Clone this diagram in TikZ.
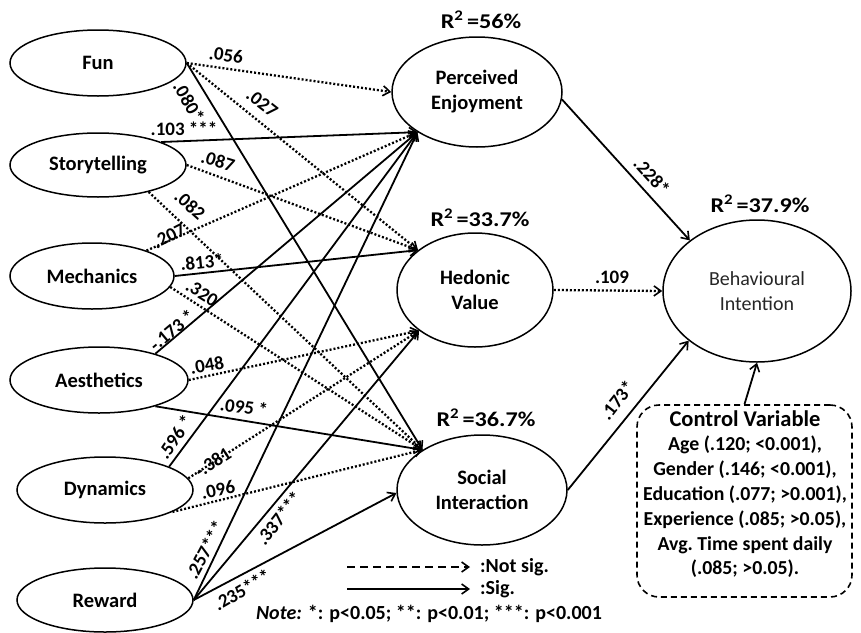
\documentclass[tikz,border=0pt]{standalone}
\usepackage{fontspec}
\setmainfont{Carlito}
\newfontfamily\widefont{Carlito}[FakeStretch=1.15]
\usetikzlibrary{shapes.geometric,arrows.meta}
\begin{document}
\begin{tikzpicture}[x=1pt,y=-1pt,
  ell/.style={draw, ellipse, line width=1.5pt, align=center, inner sep=0pt, font=\bfseries\fontsize{20.5}{25}\selectfont},
  coef/.style={font=\bfseries\fontsize{19}{19}\selectfont, inner sep=0pt},
  rsq/.style={font=\widefont\bfseries\fontsize{21}{21}\selectfont, inner sep=0pt},
  tip/.style={-{Straight Barb[length=7pt,width=10pt,line width=1.6pt]}},
  sigarr/.style={line width=1.8pt, tip},
  nsarr/.style={line width=2.3pt, dash pattern=on 2pt off 2pt, tip},
  legtxt/.style={font=\bfseries\fontsize{20}{20}\selectfont, inner sep=0pt, anchor=west},
]
\useasboundingbox (0,0) rectangle (861,632);

% exogenous constructs
\node[ell, minimum width=176pt, minimum height=66pt] (fun)   at (98,63)   {Fun};
\node[ell, minimum width=176pt, minimum height=64pt] (story) at (98,165)  {Storytelling};
\node[ell, minimum width=164pt, minimum height=66pt] (mech)  at (92,276)  {Mechanics};
\node[ell, minimum width=178pt, minimum height=66pt] (aest)  at (99,380)  {Aesthetics};
\node[ell, minimum width=176pt, minimum height=66pt] (dyn)   at (105,490) {Dynamics};
\node[ell, minimum width=176pt, minimum height=64pt] (rew)   at (105,600) {Reward};

% mediators
\node[ell, minimum width=170pt, minimum height=110pt] (pe) at (477,92)  {Perceived\\Enjoyment};
\node[ell, minimum width=156pt, minimum height=114pt] (hv) at (475,290) {Hedonic\\Value};
\node[ell, minimum width=170pt, minimum height=110pt] (si) at (482,490) {Social\\Interaction};

% outcome
\node[ell, minimum width=188pt, minimum height=142pt, font=\fontsize{20}{25}\selectfont, text=black!85] (bi) at (757,291) {Behavioural\\Intention};

% R squared
\node[rsq] (r1) at (481,20)  {R\textsuperscript{2}\,=56\%};
\node[rsq] (r2) at (480,218) {R\textsuperscript{2}\,=33.7\%};
\node[rsq] (r3) at (486,418) {R\textsuperscript{2}\,=36.7\%};
\node[rsq] (r4) at (760,204) {R\textsuperscript{2}\,=37.9\%};

% control variable box
\node[draw, line width=1.6pt, dash pattern=on 6pt off 4pt, rounded corners=22pt,
      minimum width=215pt, minimum height=192pt] (cv) at (744.5,501) {};
\node[align=center, inner sep=0pt, font=\bfseries\fontsize{19.8}{24.8}\selectfont] (cvtext) at (745,494)
  {{\fontsize{22.5}{24.8}\selectfont Control Variable}\\
   Age (.120; <0.001),\\
   Gender (.146; <0.001),\\
   Education (.077; >0.001),\\
   Experience (.085; >0.05),\\
   Avg.\ Time spent daily\\
   (.085; >0.05).};

% paths from Fun
\draw[nsarr]  (fun.east) -- (pe.west);
\draw[nsarr]  (fun.east) -- (hv.145);
\draw[sigarr] (fun.east) -- (si.146);
% Storytelling
\draw[sigarr] (story.20)  -- (pe.214);
\draw[nsarr]  (story.east) -- (hv.145);
\draw[nsarr]  (story.-28) -- (si.146);
% Mechanics
\draw[nsarr]  (mech.25)   -- (pe.214);
\draw[sigarr] (mech.east) -- (hv.145);
\draw[nsarr]  (mech.-8)   -- (si.146);
% Aesthetics
\draw[sigarr] (aest.25)   -- (pe.214);
\draw[nsarr]  (aest.east) -- (hv.216);
\draw[sigarr] (aest.-25)  -- (si.146);
% Dynamics
\draw[sigarr] (dyn.20)  -- (pe.214);
\draw[nsarr]  (dyn.8)   -- (hv.216);
\draw[nsarr]  (dyn.-18) -- (si.146);
% Reward
\draw[sigarr] (rew.east) -- (pe.214);
\draw[sigarr] (rew.east) -- (hv.216);
\draw[sigarr] (rew.east) -- (si.182);
% to Behavioural Intention
\draw[sigarr] (pe.-5)   -- (bi.143);
\draw[nsarr]  (hv.east) -- (bi.west);
\draw[sigarr] (si.east) -- (bi.216);
\draw[sigarr] (cv.north) -- (bi.south);

% coefficients
\node[coef, rotate=-7]  (c1)  at (226,55)  {.056};
\node[coef, rotate=-38] (c2)  at (262,103) {.027};
\node[coef, rotate=-60] (c3)  at (189,102) {.080*};
\node[coef]             (c4)  at (184,129) {.103 ***};
\node[coef, rotate=-17] (c5)  at (218,161) {.087};
\node[coef, rotate=-42] (c6)  at (190,205) {.082};
\node[coef, rotate=27]  (c7)  at (169,236) {.207};
\node[coef, rotate=6]   (c8)  at (202,262) {.813*};
\node[coef, rotate=-32] (c9)  at (202,293) {.320};
\node[coef, rotate=40]  (c10) at (172,330) {-.173 *};
\node[coef, rotate=10]  (c11) at (207,365) {.048};
\node[coef, rotate=-8]  (c12) at (244,407) {.095 *};
\node[coef, rotate=56]  (c13) at (175,437) {.596 *};
\node[coef, rotate=33]  (c14) at (213,462) {-.381};
\node[coef, rotate=12]  (c15) at (218,490) {.096};
\node[coef, rotate=62]  (c16) at (205,550) {.257***};
\node[coef, rotate=52]  (c17) at (279,518) {.337***};
\node[coef, rotate=30]  (c18) at (242,590) {.235***};
\node[coef, rotate=-48] (c19) at (652,176) {.228*};
\node[coef]             (c20) at (612,277) {.109};
\node[coef, rotate=52]  (c21) at (617,400) {.173*};

% legend
\coordinate (nsA) at (347,567);
\coordinate (nsB) at (470,567);
\coordinate (sgA) at (347,589);
\coordinate (sgB) at (470,589);
\draw[line width=2pt, dash pattern=on 8pt off 5pt, tip] (nsA) -- (nsB);
\draw[line width=2pt, tip] (sgA) -- (sgB);
\node[legtxt] (nstext) at (480,567) {:Not sig.};
\node[legtxt] (sgtext) at (480,589) {:Sig.};
\node[font=\bfseries\fontsize{20}{20}\selectfont, inner sep=0pt] (note) at (429,614)
  {\textit{Note:} *: p<0.05; **: p<0.01; ***: p<0.001};
\end{tikzpicture}
\end{document}
